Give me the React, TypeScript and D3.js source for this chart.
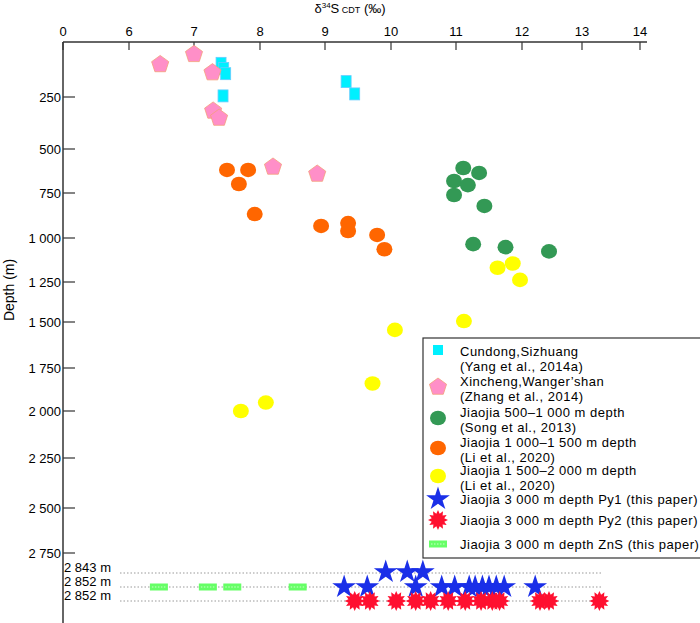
import React from 'react';
import * as d3 from 'd3';

// δ34S (‰) vs depth (m)
const cundong = [[7.41, 97], [7.45, 120], [7.48, 144], [7.44, 245], [9.32, 180], [9.45, 236]];
const xincheng = [[6.48, 102], [7.0, 56], [7.28, 139], [7.29, 317], [7.38, 351], [8.2, 602], [8.88, 642]];
const jiaojia500 = [[11.11, 608], [11.35, 636], [10.97, 682], [11.18, 705], [10.97, 761], [11.43, 822], [11.26, 1035], [11.75, 1052], [12.45, 1076]];
const jiaojia1000 = [[7.5, 619], [7.82, 619], [7.68, 699], [7.92, 867], [8.94, 933], [9.35, 917], [9.35, 961], [9.79, 983], [9.9, 1064]];
const jiaojia1500 = [[11.63, 1169], [11.86, 1145], [11.97, 1238], [11.12, 1494], [10.06, 1543], [9.72, 1840], [8.09, 1951], [7.71, 2000]];
// 3000 m samples, drawn on three labelled rows
const rowLabels = ['2 843 m', '2 852 m', '2 852 m'];
const py1Row0 = [9.92, 10.25, 10.49];
const py1Row1 = [9.29, 9.64, 10.38, 10.78, 10.98, 11.2, 11.29, 11.4, 11.5, 11.61, 11.73, 12.22];
const py2Row2 = [9.45, 9.68, 10.08, 10.38, 10.61, 10.88, 11.14, 11.38, 11.55, 11.66, 12.3, 12.45, 13.3];
const znsRow1 = [6.46, 7.21, 7.58, 8.58];

const xTicks = [0, 6, 7, 8, 9, 10, 11, 12, 13, 14];
const yTicks = [250, 500, 750, 1000, 1250, 1500, 1750, 2000, 2250, 2500, 2750];

const xScale = d3.scaleLinear().domain(xTicks).range([63, 129, 194, 260, 325, 391, 456, 522, 582, 640]);
const yScale = d3.scaleLinear().domain([0, ...yTicks]).range([42, 97, 149, 193, 238, 282, 322, 368, 411, 458, 508, 553]);
const rowY = d3.scalePoint<number>().domain([0, 1, 2]).range([573, 601]);

const fmt = (v: number) => (v >= 1000 ? d3.format(',')(v).replace(',', ' ') : String(v));
const font = 'Arial, "Liberation Sans", sans-serif';

function polyPath(n: number, rOut: number, rIn: number | null) {
    const pts: [number, number][] = [];
    const count = rIn === null ? n : n * 2;
    for (let i = 0; i < count; i++) {
        const r = rIn === null || i % 2 === 0 ? rOut : rIn;
        pts.push([(Math.PI * 2 * i) / count, r]);
    }
    return d3.lineRadial().curve(d3.curveLinearClosed)(pts) as string;
}
const pentagon = polyPath(5, 9, null);
const burst = polyPath(12, 10, 6.5);
const star = d3.symbol(d3.symbolStar, 175)() as string;

const Square = ({ x, y }: { x: number; y: number }) => <rect x={x - 5} y={y - 6} width={10} height={12} fill="#00f0ff" stroke="#66ccff" strokeWidth={0.8} />;
const Pent = ({ x, y }: { x: number; y: number }) => <path d={pentagon} transform={`translate(${x},${y})`} fill="#ff8fc8" stroke="#f4a07a" strokeWidth={0.8} />;
const Dot = ({ x, y, c }: { x: number; y: number; c: string }) => <ellipse cx={x} cy={y} rx={8} ry={7.3} fill={c} />;
const Star = ({ x, y }: { x: number; y: number }) => <path d={star} transform={`translate(${x},${y})`} fill="#1a2fe8" />;
const Burst = ({ x, y }: { x: number; y: number }) => <path d={burst} transform={`translate(${x},${y})`} fill="#ff1030" />;
const Zns = ({ x, y }: { x: number; y: number }) => (
    <g>
        <rect x={x - 9} y={y - 3.5} width={18} height={7} fill="#66ff66" />
        <line x1={x - 7} x2={x + 7} y1={y} y2={y} stroke="#c8ffc8" strokeDasharray="1.5,1.5" />
    </g>
);

const legend = [
    { sym: (x: number, y: number) => <rect x={x - 5} y={y - 6} width={10} height={10} fill="#00f0ff" />, lines: ['Cundong,Sizhuang', '(Yang et al., 2014a)'] },
    { sym: (x: number, y: number) => <Pent x={x} y={y + 6} />, lines: ['Xincheng,Wanger\u2019shan', '(Zhang et al., 2014)'] },
    { sym: (x: number, y: number) => <Dot x={x} y={y + 6} c="#339955" />, lines: ['Jiaojia 500\u20131 000 m depth', '(Song et al., 2013)'] },
    { sym: (x: number, y: number) => <Dot x={x} y={y + 6} c="#ff6600" />, lines: ['Jiaojia  1 000\u20131 500 m  depth', '(Li et al., 2020)'] },
    { sym: (x: number, y: number) => <Dot x={x} y={y + 6} c="#ffff00" />, lines: ['Jiaojia 1 500\u20132 000 m depth', '(Li et al., 2020)'] },
    { sym: (x: number, y: number) => <Star x={x} y={y} />, lines: ['Jiaojia 3 000 m depth Py1 (this paper)'] },
    { sym: (x: number, y: number) => <Burst x={x} y={y} />, lines: ['Jiaojia 3 000 m depth Py2 (this paper)'] },
    { sym: (x: number, y: number) => <Zns x={x} y={y} />, lines: ['Jiaojia 3 000 m depth ZnS (this paper)'] },
];
const legendRowY = [351, 381, 412, 442, 470, 499, 520, 544];

export default function App() {
    return (
        <svg width={700} height={623} style={{ position: 'absolute', left: 0, top: 0 }} fontFamily={font}>
            <text x={350} y={13} textAnchor="middle" fontSize={13}>
                δ<tspan dy={-5} fontSize={8}>34</tspan><tspan dy={5}>S</tspan><tspan fontSize={9}> CDT</tspan> (‰)
            </text>
            <text transform="translate(14,290) rotate(-90)" textAnchor="middle" fontSize={14}>Depth (m)</text>

            <line x1={63} x2={647} y1={42} y2={42} stroke="#333" strokeWidth={1.5} />
            {xTicks.map(t => (
                <g key={t}>
                    <line x1={xScale(t)} x2={xScale(t)} y1={42} y2={50} stroke="#333" strokeWidth={1.2} />
                    <text x={xScale(t)} y={36} textAnchor="middle" fontSize={13}>{t}</text>
                </g>
            ))}
            <line x1={63} x2={63} y1={42} y2={623} stroke="#333" strokeWidth={1.5} />
            {yTicks.map(t => (
                <g key={t}>
                    <line x1={63} x2={75} y1={yScale(t)} y2={yScale(t)} stroke="#333" strokeWidth={1.2} />
                    <text x={61} y={yScale(t) + 4.5} textAnchor="end" fontSize={13}>{fmt(t)}</text>
                </g>
            ))}

            {rowLabels.map((l, i) => (
                <g key={i}>
                    <line x1={120} x2={601} y1={rowY(i)} y2={rowY(i)} stroke="#999" strokeDasharray="1.5,2" />
                    <text x={64} y={rowY(i)! - 1} fontSize={13}>{l}</text>
                </g>
            ))}

            {cundong.map((d, i) => <Square key={i} x={xScale(d[0])} y={yScale(d[1])} />)}
            {xincheng.map((d, i) => <Pent key={i} x={xScale(d[0])} y={yScale(d[1])} />)}
            {jiaojia500.map((d, i) => <Dot key={i} x={xScale(d[0])} y={yScale(d[1])} c="#339955" />)}
            {jiaojia1000.map((d, i) => <Dot key={i} x={xScale(d[0])} y={yScale(d[1])} c="#ff6600" />)}
            {jiaojia1500.map((d, i) => <Dot key={i} x={xScale(d[0])} y={yScale(d[1])} c="#ffff00" />)}
            {znsRow1.map((v, i) => <Zns key={i} x={xScale(v)} y={rowY(1)!} />)}
            {py1Row0.map((v, i) => <Star key={i} x={xScale(v)} y={rowY(0)! - 1} />)}
            {py1Row1.map((v, i) => <Star key={i} x={xScale(v)} y={rowY(1)!} />)}
            {py2Row2.map((v, i) => <Burst key={i} x={xScale(v)} y={rowY(2)!} />)}

            <rect x={423} y={338} width={290} height={220} fill="#fff" stroke="#333" strokeWidth={1.2} />
            {legend.map((it, i) => (
                <g key={i}>
                    {it.sym(438, legendRowY[i])}
                    {it.lines.map((l, j) => (
                        <text key={j} x={460} y={legendRowY[i] + 4.5 + j * 15} fontSize={13} letterSpacing={0.5}>{l}</text>
                    ))}
                </g>
            ))}
        </svg>
    );
}
